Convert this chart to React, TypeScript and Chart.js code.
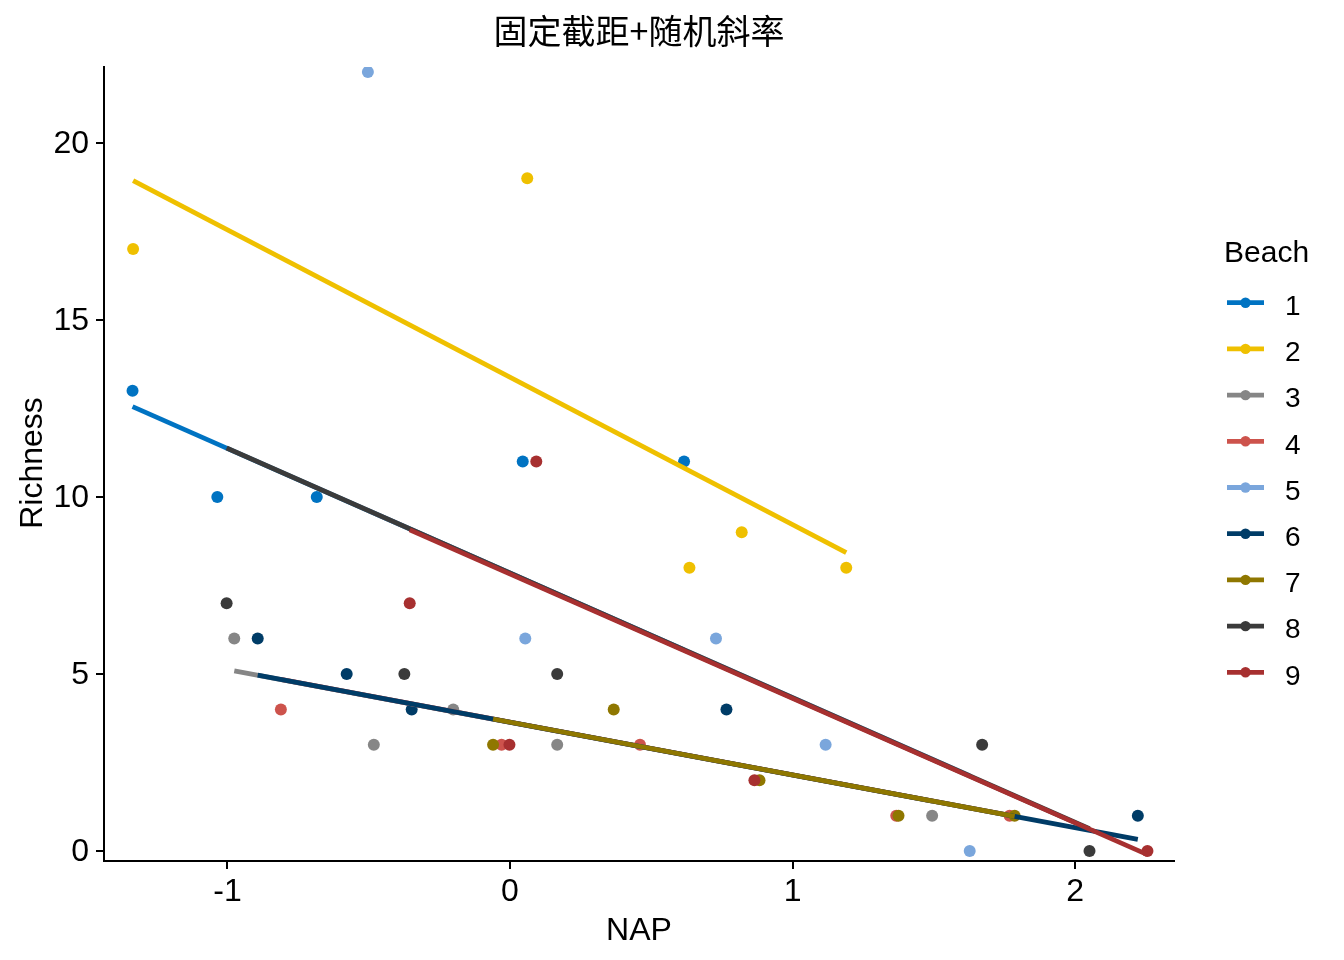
import { useEffect, useRef } from "react";
import { Chart, registerables } from "chart.js";

Chart.register(...registerables);

const beaches = ["1", "2", "3", "4", "5", "6", "7", "8", "9"];
const beachColors = [
  "#0073C2",
  "#EFC000",
  "#868686",
  "#CD534C",
  "#7AA6DC",
  "#003C67",
  "#8F7700",
  "#3B3B3B",
  "#A73030",
];

// NAP and Richness of the five samples on each beach
const napByBeach = [
  [0.045, -1.036, -1.336, 0.616, -0.684],
  [1.19, 0.82, 0.635, 0.061, -1.334],
  [-0.976, 1.494, -0.201, -0.482, 0.167],
  [1.768, -0.03, 0.46, 1.367, -0.811],
  [1.117, -0.503, 0.729, 1.627, 0.054],
  [-0.578, -0.348, 2.222, -0.893, 0.766],
  [0.883, 1.786, 1.375, 0.367, -0.06],
  [-1.003, -0.374, 0.167, 1.671, 2.051],
  [-0.355, 0.093, -0.002, 0.865, 2.256],
];
const richnessByBeach = [
  [11, 10, 13, 11, 10],
  [8, 9, 8, 19, 17],
  [6, 1, 4, 3, 3],
  [1, 3, 3, 1, 4],
  [3, 22, 6, 0, 6],
  [5, 4, 1, 6, 4],
  [2, 1, 1, 4, 3],
  [7, 5, 5, 3, 0],
  [7, 11, 3, 2, 0],
];

// fitted Richness at the lowest and the highest NAP of each beach
const fitAtMinNap = [12.55, 18.93, 5.09, 4.85, 9.62, 4.97, 3.73, 11.38, 9.07];
const fitAtMaxNap = [5.68, 8.43, 1.41, 1.01, 2.13, 0.33, 0.98, 0.63, -0.1];

const xTicks = [-1, 0, 1, 2];
const yTicks = [0, 5, 10, 15, 20];

const TITLE = "固定截距+随机斜率";
const SANS = "'Liberation Sans', Arial, sans-serif";

export default function App() {
  const canvasRef = useRef<HTMLCanvasElement | null>(null);

  useEffect(() => {
    document.body.style.margin = "0";
    if (!canvasRef.current) return;

    const pointSets = beaches.map((b, i) => ({
      label: b,
      data: napByBeach[i].map((x, j) => ({ x, y: richnessByBeach[i][j] })),
      backgroundColor: beachColors[i],
      borderWidth: 0,
      pointRadius: 6,
      order: 20 + (8 - i),
    }));

    const lineSets = beaches.map((b, i) => ({
      label: "fit " + b,
      data: [
        { x: Math.min(...napByBeach[i]), y: fitAtMinNap[i] },
        { x: Math.max(...napByBeach[i]), y: fitAtMaxNap[i] },
      ],
      borderColor: beachColors[i],
      borderWidth: 4.8,
      pointRadius: 0,
      showLine: true,
      order: 8 - i,
    }));

    const decorations = {
      id: "decorations",
      afterDraw(chart: any) {
        const ctx = chart.ctx;
        ctx.save();
        ctx.fillStyle = "#000";

        ctx.font = "34px 'Noto Sans CJK SC'";
        ctx.textAlign = "center";
        ctx.textBaseline = "middle";
        ctx.fillText(TITLE, 639, 31);

        ctx.font = `32px ${SANS}`;
        ctx.textBaseline = "alphabetic";
        ctx.fillText("NAP", 639, 940);

        ctx.save();
        ctx.translate(41.5, 463);
        ctx.rotate(-Math.PI / 2);
        ctx.fillText("Richness", 0, 0);
        ctx.restore();

        ctx.textAlign = "left";
        ctx.font = `30px ${SANS}`;
        ctx.fillText("Beach", 1224, 262);

        ctx.font = `28px ${SANS}`;
        beaches.forEach((b, i) => {
          const y = 302.7 + 46.2 * i;
          ctx.strokeStyle = beachColors[i];
          ctx.lineWidth = 4.8;
          ctx.beginPath();
          ctx.moveTo(1227, y);
          ctx.lineTo(1264, y);
          ctx.stroke();
          ctx.fillStyle = beachColors[i];
          ctx.beginPath();
          ctx.arc(1245.5, y, 5.2, 0, Math.PI * 2);
          ctx.fill();
          ctx.fillStyle = "#000";
          ctx.fillText(b, 1285, y + 12.3);
        });
        ctx.restore();
      },
    };

    const axisGrid = {
      drawOnChartArea: false,
      drawTicks: true,
      tickLength: 8,
      lineWidth: 2,
      color: "#000",
      tickColor: "#000",
    };

    const chart = new Chart(canvasRef.current, {
      type: "scatter",
      data: { datasets: [...pointSets, ...lineSets] as any },
      options: {
        responsive: false,
        animation: false,
        layout: { padding: { left: 0, right: 170, top: 67, bottom: 0 } },
        plugins: {
          legend: { display: false },
          tooltip: { enabled: false },
        },
        scales: {
          x: {
            type: "linear",
            min: -1.437,
            max: 2.35,
            afterBuildTicks: (scale: any) => {
              scale.ticks = xTicks.map((value) => ({ value }));
            },
            afterFit: (scale: any) => {
              scale.height = 99;
            },
            grid: axisGrid,
            border: { display: true, color: "#000", width: 2 },
            ticks: {
              autoSkip: false,
              maxRotation: 0,
              padding: 4,
              color: "#000",
              font: { family: SANS, size: 32 },
            },
          },
          y: {
            type: "linear",
            min: -0.28,
            max: 22.14,
            afterBuildTicks: (scale: any) => {
              scale.ticks = yTicks.map((value) => ({ value }));
            },
            afterFit: (scale: any) => {
              scale.width = 104;
            },
            grid: axisGrid,
            border: { display: true, color: "#000", width: 2 },
            ticks: {
              autoSkip: false,
              padding: 7,
              labelOffset: 1.5,
              color: "#000",
              font: { family: SANS, size: 32 },
            },
          },
        },
      },
      plugins: [decorations],
    });

    return () => chart.destroy();
  }, []);

  return (
    <div style={{ width: 1344, height: 960, background: "#fff" }}>
      <canvas ref={canvasRef} width={1344} height={960} style={{ display: "block" }} />
    </div>
  );
}
